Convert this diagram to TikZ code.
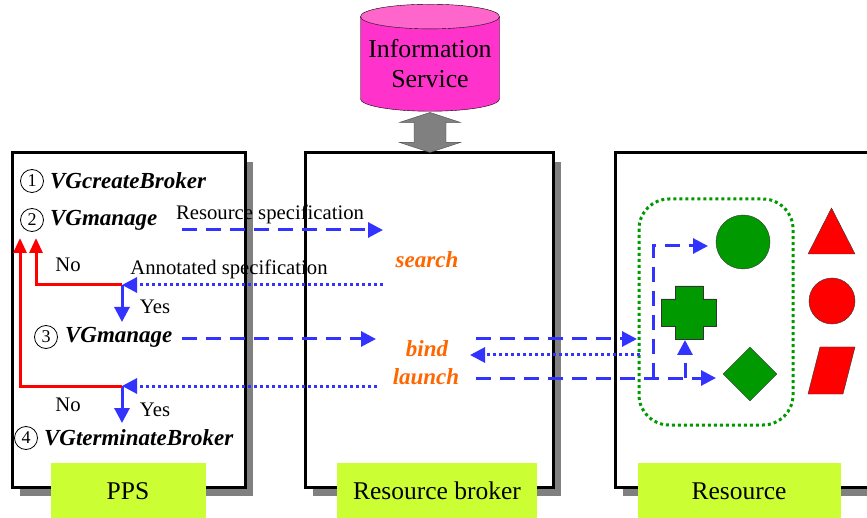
\documentclass[tikz,border=0pt]{standalone}
\usepackage{fontspec}
\setmainfont{Liberation Serif}
\usetikzlibrary{positioning,shapes.geometric,shadows,arrows.meta}

\definecolor{msgblue}{HTML}{3333FF}
\definecolor{loopred}{HTML}{FF0000}
\definecolor{actorange}{HTML}{FF6600}
\definecolor{resgreen}{HTML}{009900}
\definecolor{taglime}{HTML}{CCFF33}
\definecolor{ismag}{HTML}{FF33CC}
\definecolor{ismaglight}{HTML}{FF66CC}
\definecolor{shadowgray}{HTML}{808080}

\tikzset{
  unitbox/.style={draw, line width=3pt, fill=white, minimum height=334pt,
    drop shadow={shadow xshift=8pt, shadow yshift=-9pt, fill=shadowgray, opacity=1}},
  tag/.style={fill=taglime, minimum height=56pt, inner sep=0pt,
    font=\fontsize{25.5}{28}\selectfont},
  infocyl/.style={cylinder, shape border rotate=90, aspect=0.2,
    minimum width=139pt, minimum height=107pt, inner sep=0pt,
    cylinder uses custom fill, cylinder body fill=ismag,
    cylinder end fill=ismaglight, draw, thin, align=center,
    font=\fontsize{25.8}{30}\selectfont},
  link/.style={fill=shadowgray, draw=black!70, thin},
  stepnum/.style={circle, draw, line width=0.8pt, minimum size=23pt,
    inner sep=0pt, font=\fontsize{18}{18}\selectfont},
  call/.style={inner sep=0pt, font=\fontsize{23}{25}\selectfont\bfseries\itshape},
  action/.style={inner sep=0pt, text=actorange,
    font=\fontsize{23}{25}\selectfont\bfseries\itshape},
  msg/.style={inner sep=0pt, font=\fontsize{20.7}{22}\selectfont},
  dashmsg/.style={msgblue, line width=3pt, dash pattern=on 15pt off 9pt,
    -{Triangle[length=15pt,width=15pt,sep=0pt]}},
  dotmsg/.style={msgblue, line width=3pt, dash pattern=on 3pt off 3pt,
    -{Triangle[length=15pt,width=15pt]}},
  yesarrow/.style={msgblue, line width=3pt, -{Triangle[length=15pt,width=15pt]}},
  noarrow/.style={loopred, line width=3pt, -{Triangle[length=15pt,width=13pt]}},
  group/.style={resgreen, line width=3pt, dash pattern=on 3pt off 3pt,
    rounded corners=30pt},
  gshape/.style={fill=resgreen, draw=black!80, thin, inner sep=0pt},
  rshape/.style={fill=loopred, draw=black!80, thin, inner sep=0pt}
}

\begin{document}
\begin{tikzpicture}[x=1pt,y=-1pt]
\useasboundingbox (0,0) rectangle (867,518);

\node (IS) [infocyl] at (430,64) {Information\\Service};

\node (PPS) [unitbox, minimum width=233pt] at (128.5,320) {};
\node (RB) [unitbox, minimum width=248pt] at (429,320) {};
\node (RS) [unitbox, minimum width=300pt] at (765,320) {};

\node (PPS-t) [tag, minimum width=155pt] at (128,491) {PPS};
\node (RB-t) [tag, minimum width=200pt] at (437,491) {Resource broker};
\node (RS-t) [tag, minimum width=203pt] at (739,491) {Resource};

\filldraw[link] (IS.south) ++(0,1)
-- ++(30.5,10) -- ++(-14.5,0) -- ++(0,20) -- ++(14.5,0)
-- ++(-30.5,10) -- ++(-30.5,-10) -- ++(14.5,0) -- ++(0,-20)
-- ++(-14.5,0) -- cycle;

\node (N-1) [stepnum] at (32,181) {1};
\node (P-1) [call, right=6pt of N-1] {VGcreateBroker};
\node (N-2) [stepnum] at (32,220) {2};
\node (P-2) [call, right=6pt of N-2] {VGmanage};
\node (N-3) [stepnum] at (46,337) {3};
\node (P-3) [call, right=7pt of N-3] {VGmanage};
\node (N-4) [stepnum] at (26,438) {4};
\node (P-4) [call, right=6pt of N-4] {VGterminateBroker};

\node (search) [action] at (427,260) {search};
\node (bind) [action] at (427,349) {bind};
\node (launch) [action] at (426,377) {launch};

\node (spec) [msg] at (270,214) {Resource specification};
\node (annot) [msg] at (229,269) {Annotated specification};
\node (no-1) [msg] at (68,265) {No};
\node (yes-1) [msg] at (155,307) {Yes};
\node (no-2) [msg] at (68,405) {No};
\node (yes-2) [msg] at (155,410) {Yes};

\coordinate (M1-s) at (182,230);
\coordinate (M1-e) at (383,230);
\coordinate (M2-s) at (383,285);
\coordinate (D-1) at (122,285);
\coordinate (M3-s) at (182,339);
\coordinate (M3-e) at (376,339);
\coordinate (M4-s) at (377,386);
\coordinate (D-2) at (122,386);
\coordinate (D-1y) at (122,322);
\coordinate (D-2y) at (122,423);
\coordinate (L-1) at (36,238);
\coordinate (L-2) at (20,238);

\draw[dashmsg] (M1-s) -- (M1-e);
\draw[dotmsg] (M2-s) -- (D-1);
\draw[dashmsg] (M3-s) -- (M3-e);
\draw[dotmsg] (M4-s) -- (D-2);
\draw[yesarrow] (D-1) -- (D-1y);
\draw[yesarrow] (D-2) -- (D-2y);
\draw[noarrow] (D-1) -| (L-1);
\draw[noarrow] (D-2) -| (L-2);

\draw[group] (639,199) rectangle (793,425);

\node (G-1) [gshape, circle, minimum size=54pt] at (743,242) {};
\coordinate (G-2) at (688.5,312.5);
\filldraw[gshape] (G-2) ++(-27.5,-13.5)
-- ++(14,0) -- ++(0,-13) -- ++(28,0) -- ++(0,13) -- ++(13,0)
-- ++(0,27) -- ++(-13,0) -- ++(0,13) -- ++(-28,0) -- ++(0,-13)
-- ++(-14,0) -- cycle;
\node (G-3) [gshape, diamond, minimum width=54pt, minimum height=54pt] at (750,374) {};

\filldraw[rshape] (808,254) -- (831.5,208) -- (855,254) -- cycle;
\node (R-2) [rshape, circle, minimum size=46pt] at (832,301) {};
\filldraw[rshape] (808,394) -- (820,347) -- (855,347) -- (843,394) -- cycle;

\coordinate (B-1) at (476,339);
\coordinate (B-2) at (637,339);
\coordinate (B-3) at (640,355);
\coordinate (B-4) at (470,355);
\coordinate (B-5) at (476,378);
\coordinate (B-6) at (716,378);
\coordinate (B-7) at (653,378);
\coordinate (B-8) at (708,246);
\coordinate (B-9) at (685,378);
\coordinate (B-10) at (685,340);

\draw[dashmsg] (B-1) -- (B-2);
\draw[dotmsg] (B-3) -- (B-4);
\draw[dashmsg] (B-5) -- (B-6);
\draw[dashmsg] (B-7) |- (B-8);
\draw[dashmsg] (B-9) -- (B-10);

\end{tikzpicture}
\end{document}
